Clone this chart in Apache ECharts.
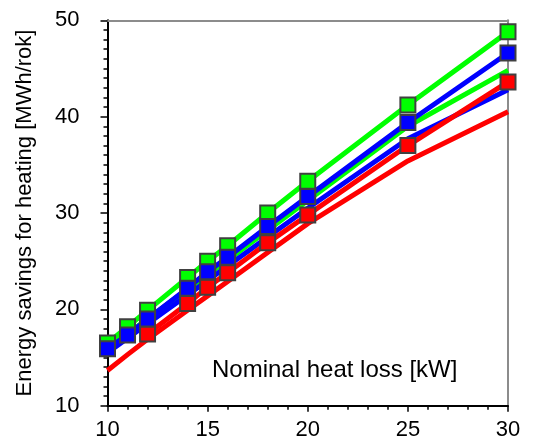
<!DOCTYPE html>
<html>
<head>
<meta charset="utf-8">
<script src="https://cdn.jsdelivr.net/npm/echarts@6/dist/echarts.min.js"></script>
<style>html,body{margin:0;padding:0;background:#fff}#c{width:533px;height:443px}</style>
</head>
<body>
<div id="c"></div>
<script>
// Nominal heat loss [kW]
var xs = [10, 11, 12, 14, 15, 16, 18, 20, 25, 30];
// series with square markers
var greenMarked = [16.5, 18.2, 19.9, 23.3, 25.0, 26.6, 30.0, 33.3, 41.2, 48.8];
var blueMarked = [15.9, 17.35, 19.0, 22.2, 23.9, 25.4, 28.6, 31.7, 39.4, 46.6];
var redMarkedX = [12, 14, 15, 16, 18, 20, 25, 30];
var redMarked = [17.45, 20.6, 22.3, 23.8, 26.9, 29.8, 37.0, 43.6];
// plain lines
var greenPlain = [16.0, 17.5, 19.0, 22.1, 23.6, 25.1, 28.2, 31.3, 39.0, 44.8];
var bluePlain = [15.5, 17.0, 18.5, 21.5, 23.0, 24.5, 27.5, 30.5, 37.7, 42.8];
var redPlain = [13.65, 15.3, 16.9, 19.9, 21.4, 22.9, 25.9, 28.9, 35.4, 40.5];

var xTicks = [10, 15, 20, 25, 30];
var yTicks = [10, 20, 30, 40, 50];

function pairs(x, y) { return x.map(function (v, i) { return [v, y[i]]; }); }

var FONT = "'Liberation Sans', Arial, sans-serif";
var chart = echarts.init(document.getElementById('c'), null, {renderer: 'canvas'});

function plain(name, color, data) {
  return {name: name, type: 'line', data: data, symbol: 'none', z: 2,
    lineStyle: {color: color, width: 5}, animation: false};
}
function marked(name, color, data) {
  return {name: name, type: 'line', data: data, symbol: 'rect', symbolSize: 15, z: 3,
    showAllSymbol: true,
    lineStyle: {color: color, width: 5},
    itemStyle: {color: color, borderColor: '#404040', borderWidth: 2},
    animation: false};
}

chart.setOption({
  animation: false,
  backgroundColor: '#fff',
  grid: {left: 107.5, right: 25, top: 20.3, bottom: 37.3},
  xAxis: [{
    type: 'value', min: xTicks[0], max: xTicks[xTicks.length - 1], interval: 5,
    axisLine: {show: true, lineStyle: {color: '#000', width: 2}},
    axisTick: {show: true, length: 6, lineStyle: {color: '#000', width: 1.5}},
    minorTick: {show: true, splitNumber: 5, length: 4, lineStyle: {color: '#000', width: 1.5}},
    axisLabel: {color: '#000', fontSize: 22, fontFamily: FONT, margin: 13},
    splitLine: {show: false}
  }, {
    type: 'value', position: 'top', min: 10, max: 30,
    axisLine: {show: true, onZero: false, lineStyle: {color: '#8c8c8c', width: 2}},
    axisTick: {show: false}, axisLabel: {show: false}, splitLine: {show: false}
  }],
  yAxis: [{
    type: 'value', min: yTicks[0], max: yTicks[yTicks.length - 1], interval: 10,
    name: 'Energy savings for heating [MWh/rok]', nameLocation: 'middle', nameGap: 72,
    nameTextStyle: {color: '#000', fontSize: 22, fontFamily: FONT},
    axisLine: {show: true, lineStyle: {color: '#000', width: 2}},
    axisTick: {show: true, length: 7, lineStyle: {color: '#000', width: 1.5}},
    minorTick: {show: true, splitNumber: 10, length: 4, lineStyle: {color: '#000', width: 1.5}},
    axisLabel: {color: '#000', fontSize: 22, fontFamily: FONT, margin: 28},
    splitLine: {show: false}
  }, {
    type: 'value', position: 'right', min: 10, max: 50,
    axisLine: {show: true, onZero: false, lineStyle: {color: '#8c8c8c', width: 2}},
    axisTick: {show: false}, axisLabel: {show: false}, splitLine: {show: false}
  }],
  graphic: [{
    type: 'text', left: 212, top: 358, z: 10,
    style: {text: 'Nominal heat loss [kW]', fontSize: 24, fontFamily: FONT, fill: '#000'}
  }],
  series: [
    plain('Green (no markers)', '#00ff00', pairs(xs, greenPlain)),
    plain('Blue (no markers)', '#0000ff', pairs(xs, bluePlain)),
    plain('Red (no markers)', '#ff0000', pairs(xs, redPlain)),
    marked('Green', '#00ff00', pairs(xs, greenMarked)),
    marked('Red', '#ff0000', pairs(redMarkedX, redMarked)),
    marked('Blue', '#0000ff', pairs(xs, blueMarked))
  ]
});
</script>
</body>
</html>
